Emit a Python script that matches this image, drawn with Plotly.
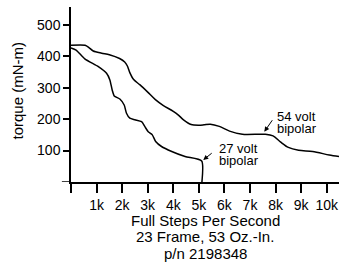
import plotly.graph_objects as go

# 54 volt bipolar curve (x in thousands of full steps per second, torque mN-m)
v54_x = [0, 0.55, 0.7, 0.87, 1.2, 1.5, 1.9, 2.1, 2.2, 2.3, 2.45, 2.7, 3.0, 3.3, 3.6, 4.0, 4.2, 4.4, 4.7,
         5.0, 5.2, 5.45, 5.8, 6.2, 6.7, 7.6, 7.9, 8.2, 8.5, 8.9, 9.45, 10.1, 10.48]
v54_y = [435, 435, 428, 417, 410, 405, 393, 382, 370, 348, 326, 309, 286, 262, 244, 225, 213, 198, 183,
         181, 182, 184, 177, 162, 152, 152, 147, 127, 110, 101, 97, 86, 81]

# 27 volt bipolar curve
v27_x = [0, 0.2, 0.54, 1.07, 1.39, 1.52, 1.61, 1.69, 1.91, 2.08, 2.17, 2.30, 2.5, 2.76, 2.89, 3.02,
         3.18, 3.31, 3.54, 3.94, 4.46, 5.11, 5.12]
v27_y = [427, 420, 392, 367, 346, 325, 293, 274, 264, 245, 219, 203, 198, 192, 176, 160,
         150, 129, 113, 97, 81, 67, 0]

x_tickvals = [0, 1, 2, 3, 4, 5, 6, 7, 8, 9, 10]
x_ticktext = ["", "1k", "2k", "3k", "4k", "5k", "6k", "7k", "8k", "9k", "10k"]
y_tickvals = [100, 200, 300, 400, 500]
x_title_lines = ["Full Steps Per Second", "23 Frame, 53 Oz.-In.", "p/n 2198348"]

FONT = "Liberation Sans, Arial, Helvetica, sans-serif"

fig = go.Figure()
fig.add_trace(go.Scatter(x=v54_x, y=v54_y, mode="lines",
                         line=dict(color="black", width=1.5, shape="spline", smoothing=0.8),
                         hoverinfo="skip", showlegend=False))
fig.add_trace(go.Scatter(x=v27_x, y=v27_y, mode="lines",
                         line=dict(color="black", width=1.5, shape="spline", smoothing=0.6),
                         hoverinfo="skip", showlegend=False))

fig.update_layout(
    width=339, height=262,
    margin=dict(l=71, r=0, t=7, b=80),
    paper_bgcolor="white", plot_bgcolor="white",
    font=dict(family=FONT, size=12, color="black"),
    xaxis=dict(range=[0, 10.48], tickvals=x_tickvals, ticktext=x_ticktext,
               showline=True, linecolor="black", linewidth=1.5,
               ticks="outside", ticklen=9, tickwidth=1.5, tickcolor="black",
               ticklabeloverflow="allow",
               showgrid=False, zeroline=False, tickfont=dict(size=14)),
    yaxis=dict(range=[0, 557], tickvals=y_tickvals,
               showline=True, linecolor="black", linewidth=1.5,
               ticks="outside", ticklen=6, tickwidth=1.5, tickcolor="black",
               showgrid=False, zeroline=False, tickfont=dict(size=14)),
)

# small extension of the x axis line to the left of the y axis
fig.add_shape(type="line", xref="paper", yref="y", x0=-0.034, x1=0, y0=0, y1=0,
              line=dict(color="black", width=1.5))

# axis titles
for txt, yp in zip(x_title_lines, [-0.221, -0.314, -0.408]):
    fig.add_annotation(xref="paper", yref="paper", x=0.5, y=yp, xanchor="center", yanchor="middle",
                       text=txt, showarrow=False, font=dict(size=15))
fig.add_annotation(xref="paper", yref="paper", x=-0.2015, y=0.523, xanchor="center", yanchor="middle",
                   text="torque (mN-m)", textangle=-90, showarrow=False, font=dict(size=15))

# curve labels
fig.add_annotation(x=7.56, y=160, ax=9, ay=-13, text="", showarrow=True,
                   arrowhead=2, arrowsize=1, arrowwidth=1, arrowcolor="black")
fig.add_annotation(x=7.98, y=207, xanchor="left", yanchor="middle", text="54 volt",
                   showarrow=False, font=dict(size=13))
fig.add_annotation(x=7.98, y=169, xanchor="left", yanchor="middle", text="bipolar",
                   showarrow=False, font=dict(size=13))
fig.add_annotation(x=5.17, y=70, ax=10, ay=-8, text="", showarrow=True,
                   arrowhead=2, arrowsize=1, arrowwidth=1, arrowcolor="black")
fig.add_annotation(x=5.71, y=108, xanchor="left", yanchor="middle", text="27 volt",
                   showarrow=False, font=dict(size=13))
fig.add_annotation(x=5.71, y=67, xanchor="left", yanchor="middle", text="bipolar",
                   showarrow=False, font=dict(size=13))

fig.write_html("out.html", config={"displayModeBar": False},
               post_script="document.body.style.margin='0';")
